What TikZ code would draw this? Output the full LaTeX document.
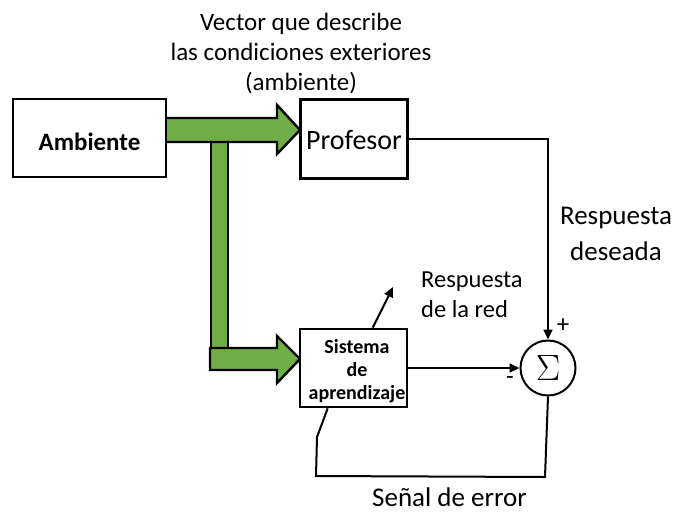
\documentclass[tikz,border=0pt]{standalone}
\usepackage{fontspec}
\usepackage{graphicx}
\setmainfont{Carlito}
\usetikzlibrary{arrows.meta,calc}
\definecolor{arrowgreen}{HTML}{70AD47}

\begin{document}
\begin{tikzpicture}[x=1pt,y=-1pt,
  box/.style={draw,line width=2.6pt,fill=white,inner sep=0pt},
  conn/.style={line width=2pt},
  tip/.style={-{Triangle[length=10pt,width=9pt]}},
  greenshape/.style={fill=arrowgreen,draw=black,line width=2.4pt,line join=miter},
  txt/.style={inner sep=0pt}]
\useasboundingbox (0,0) rectangle (680,512);

% wide green arrows carrying the environment vector
\filldraw[greenshape] (211,142) rectangle (228,350);
\filldraw[greenshape] (210,348) -- (277,348) -- (277,336) -- (300,359)
  -- (277,383) -- (277,370) -- (210,370) -- cycle;
\fill[arrowgreen] (167,118) -- (277,118) -- (277,105) -- (300,130)
  -- (277,154) -- (277,142) -- (167,142) -- cycle;
\draw[greenshape,fill=none] (167,118) -- (277,118) -- (277,105) -- (300,130)
  -- (277,154) -- (277,142) -- (167,142);

% blocks
\node[box,minimum width=153pt,minimum height=78pt,
  font=\fontsize{25}{30}\bfseries,text height=25.4pt,text depth=0pt]
  (amb) at (89.5,138) {Ambiente};
\node[box,minimum width=107pt,minimum height=79pt,
  font=\fontsize{28}{32}\selectfont,text height=20pt,text depth=0pt]
  (prof) at (354,139) {Profesor};
\node[box,minimum width=107pt,minimum height=78pt] (sis) at (353.5,368) {};
\node[txt,anchor=base,align=center,font=\fontsize{20}{23}\bfseries]
  (sistxt) at (357,399) {Sistema\\de\\aprendizaje};
\node[draw,circle,line width=2pt,minimum size=55pt,inner sep=0pt,fill=white]
  (sum) at (548,368) {\scalebox{1.47}{\Huge$\Sigma$}};

% labels (multi-line labels are placed by the baseline of their last line)
\node[txt,anchor=base,align=center,font=\fontsize{25}{30}\selectfont]
  (vec) at (301,90) {Vector que describe\\las condiciones exteriores\\(ambiente)};
\node[txt,anchor=base,align=center,font=\fontsize{27}{36}\selectfont]
  (deseada) at (616,260) {Respuesta\\deseada};
\node[txt,anchor=base west,align=left,font=\fontsize{24.5}{30}\selectfont]
  (red) at (421,317) {Respuesta\\de la red};
\node[txt,anchor=base west,font=\fontsize{27}{32}\selectfont]
  (error) at (372,506) {Señal de error};
\node[txt,font=\fontsize{25}{25}\selectfont] (plus) at (563,326) {+};
\node[txt,font=\fontsize{25}{25}\selectfont] (minus) at (510,381) {-};

% connectors
\coordinate (fb1) at (545,477);
\coordinate (fb2) at (316,476);
\coordinate (fb3) at (317,437);
\coordinate (fbend) at ($(sis.south west)+(29,0)$);
\coordinate (outstart) at ($(sis.north west)+(74,0)$);
\coordinate (outtip) at (393,287);

\draw[conn,tip] (prof.east) -- (sum.north |- prof.east) -- (sum.north);
\draw[conn,tip] (sis.east) -- (sum.west);
\draw[conn] (sum.south) -- (fb1) -- (fb2) -- (fb3) -- (fbend);
\draw[conn,tip] (outstart) -- (outtip);
\end{tikzpicture}
\end{document}
